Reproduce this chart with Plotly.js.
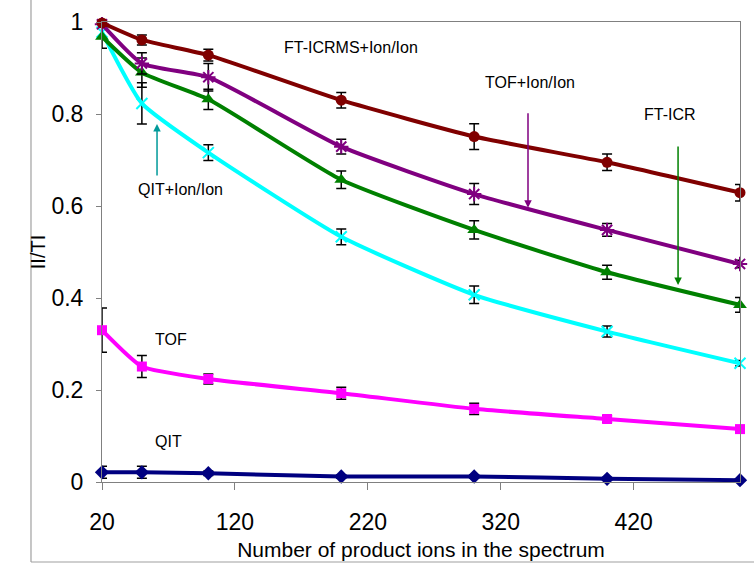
<!DOCTYPE html>
<html>
<head>
<meta charset="utf-8">
<script src="https://cdn.plot.ly/plotly-3.0.1.min.js"></script>
<style>html,body{margin:0;padding:0;background:#fff;}#chart{width:754px;height:564px;}</style>
</head>
<body>
<div id="chart"></div>
<script>
// Number of product ions in the spectrum
const xVals = [20, 50, 100, 200, 300, 400, 500];

// Series values (II/TI) and error bar half-lengths
const ftIcrmsIonIon    = [0.998, 0.961, 0.928, 0.830, 0.751, 0.695, 0.629];
const ftIcrmsIonIonErr = [0.005, 0.011, 0.013, 0.017, 0.028, 0.018, 0.018];
const tofIonIon        = [0.995, 0.910, 0.880, 0.729, 0.626, 0.548, 0.474];
const tofIonIonErr     = [0.005, 0.023, 0.030, 0.016, 0.023, 0.014, 0.008];
const ftIcr            = [0.968, 0.890, 0.832, 0.657, 0.548, 0.456, 0.385];
const ftIcrErr         = [0.025, 0.032, 0.022, 0.019, 0.020, 0.015, 0.016];
const qitIonIon        = [0.978, 0.823, 0.716, 0.533, 0.407, 0.327, 0.258];
const qitIonIonErr     = [0.010, 0.045, 0.017, 0.017, 0.019, 0.012, 0.006];
const tof              = [0.330, 0.251, 0.224, 0.193, 0.159, 0.137, 0.115];
const tofErr           = [0.048, 0.024, 0.011, 0.013, 0.012, 0.007, 0.006];
const qit              = [0.021, 0.021, 0.019, 0.012, 0.012, 0.007, 0.004];
const qitErr           = [0.013, 0.013, 0.005, 0.004, 0.004, 0.003, 0.003];

const seriesNames = ["QIT", "TOF", "QIT+Ion/Ion", "FT-ICR", "TOF+Ion/Ion", "FT-ICRMS+Ion/Ion"];

function mkTrace(name, y, err, color, symbol, size, open) {
  return {
    type: 'scatter', mode: 'lines+markers', name: name,
    x: xVals, y: y,
    line: {color: color, width: 4, shape: 'spline', smoothing: 0.5},
    marker: open ? {symbol: symbol, size: size, color: color, line: {color: color, width: 2}}
                 : {symbol: symbol, size: size, color: color, line: {width: 0}},
    error_y: {type: 'data', array: err, visible: true, color: '#000', thickness: 1.5, width: 5},
    showlegend: false, cliponaxis: false
  };
}

const data = [
  mkTrace(seriesNames[0], qit, qitErr, '#000080', 'diamond', 11, false),
  mkTrace(seriesNames[1], tof, tofErr, '#FF00FF', 'square', 10, false),
  mkTrace(seriesNames[2], qitIonIon, qitIonIonErr, '#00FFFF', 'x-thin-open', 11, true),
  mkTrace(seriesNames[3], ftIcr, ftIcrErr, '#008000', 'triangle-up', 12, false),
  mkTrace(seriesNames[4], tofIonIon, tofIonIonErr, '#800080', 'asterisk-open', 12, true),
  mkTrace(seriesNames[5], ftIcrmsIonIon, ftIcrmsIonIonErr, '#800000', 'circle', 11, false)
];

const txtFont = {family: 'Liberation Sans, Arial, sans-serif', size: 16, color: '#000'};

const layout = {
  width: 754, height: 564,
  margin: {l: 102, r: 14, t: 22, b: 82, pad: 0},
  paper_bgcolor: '#fff', plot_bgcolor: '#fff',
  font: {family: 'Liberation Sans, Arial, sans-serif', color: '#000'},
  xaxis: {
    range: [20, 500], tick0: 20, dtick: 100, tickmode: 'linear',
    showgrid: false, zeroline: false,
    showline: true, linecolor: '#808080', linewidth: 1, mirror: true,
    ticks: 'outside', ticklen: 7, tickcolor: '#808080',
    ticklabelstandoff: 12,
    tickfont: {size: 23, color: '#000'},
    title: {text: 'Number of product ions in the spectrum', font: {size: 21, color: '#000'}, standoff: 8}
  },
  yaxis: {
    range: [0, 1], tick0: 0, dtick: 0.2, tickmode: 'linear',
    showgrid: false, zeroline: false,
    showline: true, linecolor: '#808080', linewidth: 1, mirror: true,
    ticks: 'outside', ticklen: 5, tickcolor: '#808080',
    ticklabelstandoff: 8,
    tickfont: {size: 23, color: '#000'},
    title: {text: 'II/TI', font: {size: 20, color: '#000'}, standoff: 0}
  },
  shapes: [
    {type: 'line', xref: 'paper', yref: 'paper', x0: -0.1113, x1: -0.1113, y0: -0.1739, y1: 1.05,
     line: {color: '#a0a0a0', width: 1.2}},
    {type: 'line', xref: 'paper', yref: 'paper', x0: -0.1113, x1: 1.03, y0: -0.1739, y1: -0.1739,
     line: {color: '#a0a0a0', width: 1.2}}
  ],
  annotations: [
    {x: 207, y: 0.945, xref: 'x', yref: 'y', text: 'FT-ICRMS+Ion/Ion', showarrow: false, font: txtFont},
    {x: 342, y: 0.868, xref: 'x', yref: 'y', text: 'TOF+Ion/Ion', showarrow: false, font: txtFont},
    {x: 447, y: 0.800, xref: 'x', yref: 'y', text: 'FT-ICR', showarrow: false, font: txtFont},
    {x: 79, y: 0.635, xref: 'x', yref: 'y', text: 'QIT+Ion/Ion', showarrow: false, font: txtFont},
    {x: 72, y: 0.309, xref: 'x', yref: 'y', text: 'TOF', showarrow: false, font: txtFont},
    {x: 70, y: 0.087, xref: 'x', yref: 'y', text: 'QIT', showarrow: false, font: txtFont},
    // arrows
    {x: 340.5, y: 0.596, xref: 'x', yref: 'y', ax: 0, ay: -96, text: '', showarrow: true,
     arrowhead: 2, arrowsize: 1, arrowwidth: 1.5, arrowcolor: '#800080'},
    {x: 453.4, y: 0.428, xref: 'x', yref: 'y', ax: 0, ay: -140, text: '', showarrow: true,
     arrowhead: 2, arrowsize: 1, arrowwidth: 1.5, arrowcolor: '#008000'},
    {x: 61.4, y: 0.778, xref: 'x', yref: 'y', ax: 0, ay: 53, text: '', showarrow: true,
     arrowhead: 2, arrowsize: 1, arrowwidth: 1.5, arrowcolor: '#009999'}
  ]
};

Plotly.newPlot('chart', data, layout, {displayModeBar: false, staticPlot: true});
</script>
</body>
</html>
